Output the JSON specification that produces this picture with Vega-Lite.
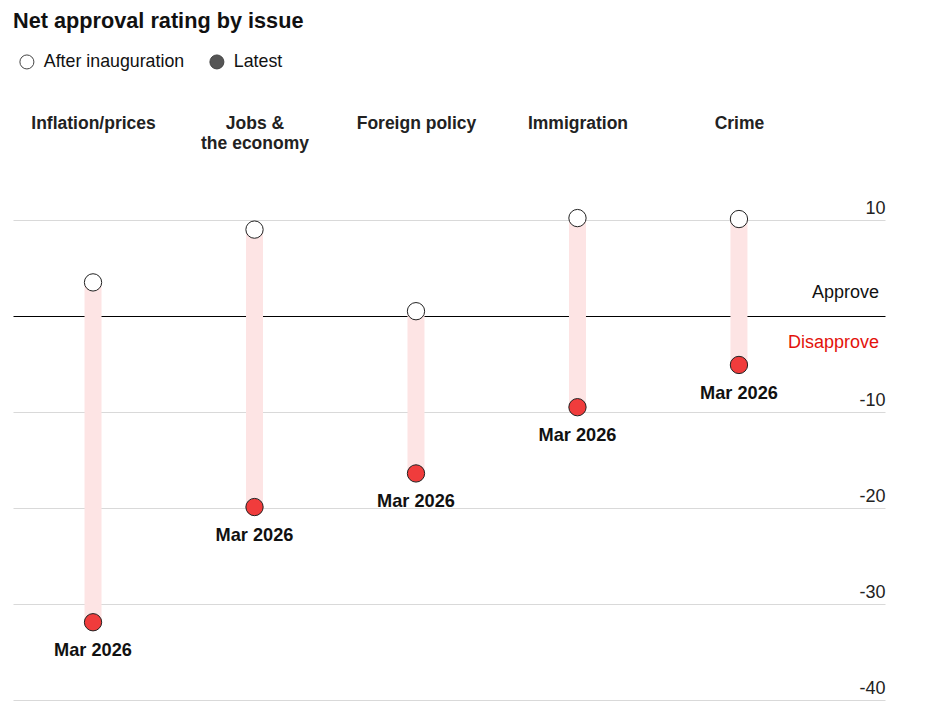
{
  "$schema": "https://vega.github.io/schema/vega-lite/v6.json",
  "width": 872,
  "height": 480,
  "autosize": {"type": "none"},
  "padding": {"left": 13, "top": 220, "right": 42, "bottom": 22},
  "background": "white",
  "title": {
    "text": "Net approval rating by issue",
    "anchor": "start",
    "frame": "group",
    "font": "Liberation Sans",
    "fontSize": 21.7,
    "fontWeight": "bold",
    "color": "#111111",
    "offset": 20
  },
  "config": {
    "view": {"stroke": null},
    "font": "Liberation Sans"
  },
  "data": {
    "values": [
      {"issue": "Inflation/prices", "After inauguration": 3.5, "Latest": -31.9, "date": "Mar 2026"},
      {"issue": "Jobs & the economy", "After inauguration": 9.0, "Latest": -19.9, "date": "Mar 2026"},
      {"issue": "Foreign policy", "After inauguration": 0.5, "Latest": -16.4, "date": "Mar 2026"},
      {"issue": "Immigration", "After inauguration": 10.2, "Latest": -9.5, "date": "Mar 2026"},
      {"issue": "Crime", "After inauguration": 10.1, "Latest": -5.1, "date": "Mar 2026"}
    ]
  },
  "layer": [
    {
      "mark": {"type": "rule", "color": "#fde4e4", "strokeWidth": 17, "strokeCap": "butt"},
      "encoding": {
        "x": {
          "field": "issue", "type": "nominal", "sort": null,
          "scale": {"type": "point", "padding": 0.7, "align": 0.354},
          "axis": {
            "orient": "top", "title": null, "domain": false, "ticks": false, "tickSize": 0, "grid": false,
            "labelAngle": 0, "labelBaseline": "top", "labelPadding": 106,
            "labelFont": "Liberation Sans", "labelFontSize": 17.5, "labelFontWeight": "bold",
            "labelColor": "#222222", "labelLineHeight": 20,
            "labelExpr": "datum.value == 'Jobs & the economy' ? ['Jobs &', 'the economy'] : datum.label"
          }
        },
        "y": {
          "field": "After inauguration", "type": "quantitative",
          "scale": {"domain": [-40, 10], "nice": false, "zero": false},
          "axis": {
            "orient": "right", "title": null, "domain": false, "ticks": false,
            "values": [-40, -30, -20, -10, 0, 10],
            "labelAlign": "right", "labelPadding": 0, "labelBaseline": "alphabetic", "labelOffset": -7,
            "labelFont": "Liberation Sans", "labelFontSize": 18, "labelColor": "#222222",
            "labelExpr": "datum.value === 0 ? '' : toString(datum.value)",
            "gridColor": {"condition": {"test": "datum.value === 0", "value": "#000000"}, "value": "#d9d9d9"},
            "gridWidth": 1
          }
        },
        "y2": {"field": "Latest"}
      }
    },
    {
      "transform": [{"fold": ["After inauguration", "Latest"], "as": ["period", "value"]}],
      "mark": {"type": "point", "shape": "circle", "filled": true, "opacity": 0, "size": 196},
      "encoding": {
        "x": {"field": "issue", "type": "nominal", "sort": null},
        "y": {"field": "value", "type": "quantitative"},
        "color": {
          "field": "period", "type": "nominal",
          "scale": {"domain": ["After inauguration", "Latest"], "range": ["#ffffff", "#555555"]},
          "legend": {
            "title": null, "orient": "none", "direction": "horizontal",
            "legendX": 5, "legendY": -167,
            "symbolType": "circle", "symbolSize": 196, "symbolOpacity": 1,
            "symbolStrokeColor": "#444444", "symbolStrokeWidth": 1,
            "labelFont": "Liberation Sans", "labelFontSize": 17.8, "labelColor": "#111111",
            "labelOffset": 8, "columnPadding": 22
          }
        }
      }
    },
    {
      "transform": [{"fold": ["After inauguration", "Latest"], "as": ["period", "value"]}],
      "mark": {"type": "point", "shape": "circle", "filled": true, "size": 300, "stroke": "#222222", "strokeWidth": 1, "opacity": 1},
      "encoding": {
        "x": {"field": "issue", "type": "nominal", "sort": null},
        "y": {"field": "value", "type": "quantitative"},
        "fill": {
          "field": "period", "type": "nominal",
          "scale": {"domain": ["After inauguration", "Latest"], "range": ["#ffffff", "#f03c3c"]},
          "legend": null
        }
      }
    },
    {
      "mark": {"type": "text", "font": "Liberation Sans", "fontSize": 18.2, "fontWeight": "bold", "color": "#111111", "baseline": "middle", "dy": 29},
      "encoding": {
        "x": {"field": "issue", "type": "nominal", "sort": null},
        "y": {"field": "Latest", "type": "quantitative"},
        "text": {"field": "date"}
      }
    },
    {
      "data": {"values": [{"label": "Approve"}]},
      "mark": {"type": "text", "font": "Liberation Sans", "fontSize": 18, "color": "#111111", "align": "right", "baseline": "alphabetic", "dy": -18, "dx": -6},
      "encoding": {
        "x": {"value": "width"},
        "y": {"datum": 0, "type": "quantitative"},
        "text": {"field": "label"}
      }
    },
    {
      "data": {"values": [{"label": "Disapprove"}]},
      "mark": {"type": "text", "font": "Liberation Sans", "fontSize": 18, "color": "#e3120b", "align": "right", "baseline": "alphabetic", "dy": 32, "dx": -6},
      "encoding": {
        "x": {"value": "width"},
        "y": {"datum": 0, "type": "quantitative"},
        "text": {"field": "label"}
      }
    }
  ]
}
